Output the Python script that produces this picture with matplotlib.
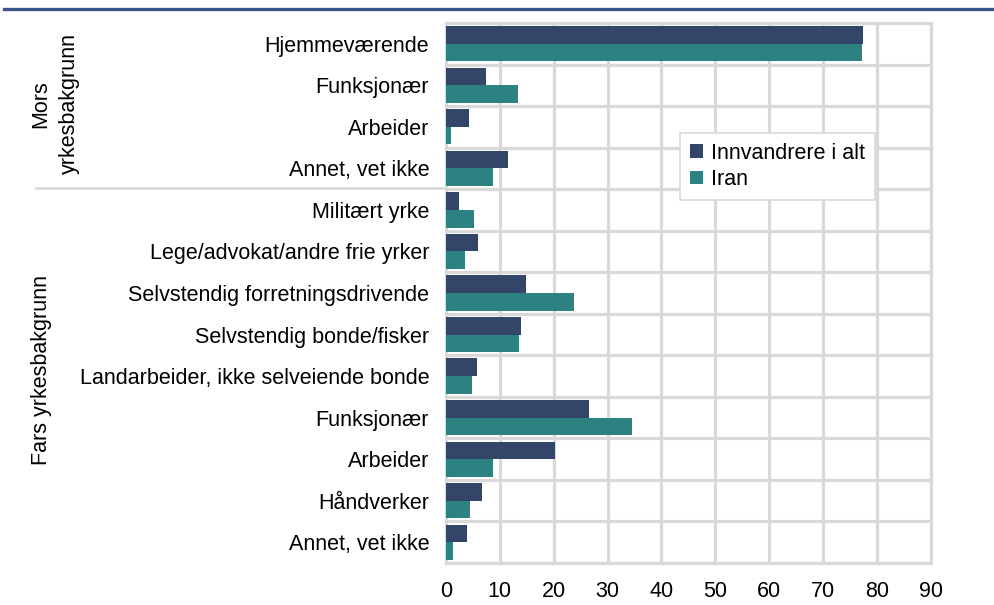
import matplotlib
matplotlib.use("Agg")
import matplotlib.pyplot as plt
from matplotlib.lines import Line2D
from matplotlib.transforms import Bbox
import numpy as np

plt.rcParams["font.family"] = ["Liberation Sans", "DejaVu Sans"]

# categories, top to bottom
categories = [
    "Hjemmeværende", "Funksjonær", "Arbeider", "Annet, vet ikke",
    "Militært yrke", "Lege/advokat/andre frie yrker",
    "Selvstendig forretningsdrivende", "Selvstendig bonde/fisker",
    "Landarbeider, ikke selveiende bonde", "Funksjonær", "Arbeider",
    "Håndverker", "Annet, vet ikke",
]
innvandrere = [77.3, 7.4, 4.3, 11.6, 2.5, 6.0, 14.8, 14.0, 5.7, 26.6, 20.3, 6.7, 3.9]
iran = [77.2, 13.3, 1.0, 8.8, 5.2, 3.5, 23.8, 13.6, 4.8, 34.6, 8.8, 4.5, 1.35]
series_names = ["Innvandrere i alt", "Iran"]
group_labels = ["Mors\nyrkesbakgrunn", "Fars yrkesbakgrunn"]
xticks = list(range(0, 100, 10))

DARK = "#33466a"
TEAL = "#2c8280"
GRID = "#d9d9d9"
FS = 15.5

fig = plt.figure(figsize=(9.94, 6.05), dpi=100)
ax = fig.add_axes([0.4485, 0.0694, 0.4881, 0.8926])

n = len(categories)
y = np.arange(n)
h = 0.425
ax.barh(y - h / 2, innvandrere, height=h, color=DARK, label=series_names[0], zorder=3)
ax.barh(y + h / 2, iran, height=h, color=TEAL, label=series_names[1], zorder=3)

ax.set_ylim(n - 0.5, -0.5)
ax.set_xlim(0, 90)
ax.set_yticks(y)
ax.set_yticklabels(categories, fontsize=FS)
ax.set_yticks(np.arange(n + 1) - 0.5, minor=True)
ax.set_xticks(xticks)
ax.set_xticklabels([str(t) for t in xticks], fontsize=FS)
ax.tick_params(axis="y", which="both", length=0, pad=12)
ax.tick_params(axis="x", length=0, pad=13)
ax.grid(axis="x", color=GRID, lw=2.3, zorder=0)
ax.grid(axis="y", which="minor", color=GRID, lw=2.3, zorder=0)
ax.grid(axis="y", which="major", visible=False)
for s in ax.spines.values():
    s.set_color(GRID)
    s.set_linewidth(2.3)

leg = ax.legend(loc="upper left", bbox_to_anchor=(0.483, 0.796), borderaxespad=0,
                fontsize=FS, fancybox=False, framealpha=1, edgecolor=GRID,
                handlelength=0.6, handleheight=0.6, handletextpad=0.4,
                labelspacing=0.25, borderpad=0.45)
leg.get_frame().set_linewidth(1.2)

# top rule and group separator
fig.add_artist(Line2D([0.004, 1.0], [1 - 9 / 605, 1 - 9 / 605], color="#3b5686", lw=2.4))
fig.add_artist(Line2D([36 / 994, 446 / 994], [1 - 188 / 605, 1 - 188 / 605], color=GRID, lw=2.0))

fig.text(55 / 994, 1 - 104 / 605, group_labels[0], rotation=90, ha="center",
         va="center", fontsize=FS, linespacing=1.5, multialignment="center")
t = fig.text(42 / 994, 1 - 370 / 605, group_labels[1], rotation=90, ha="center",
             va="center", fontsize=FS)
t.set_clip_box(Bbox.from_extents(0, 0, 994, 605 - 276))
t.set_clip_on(True)

fig.savefig("out.png", dpi=100)
